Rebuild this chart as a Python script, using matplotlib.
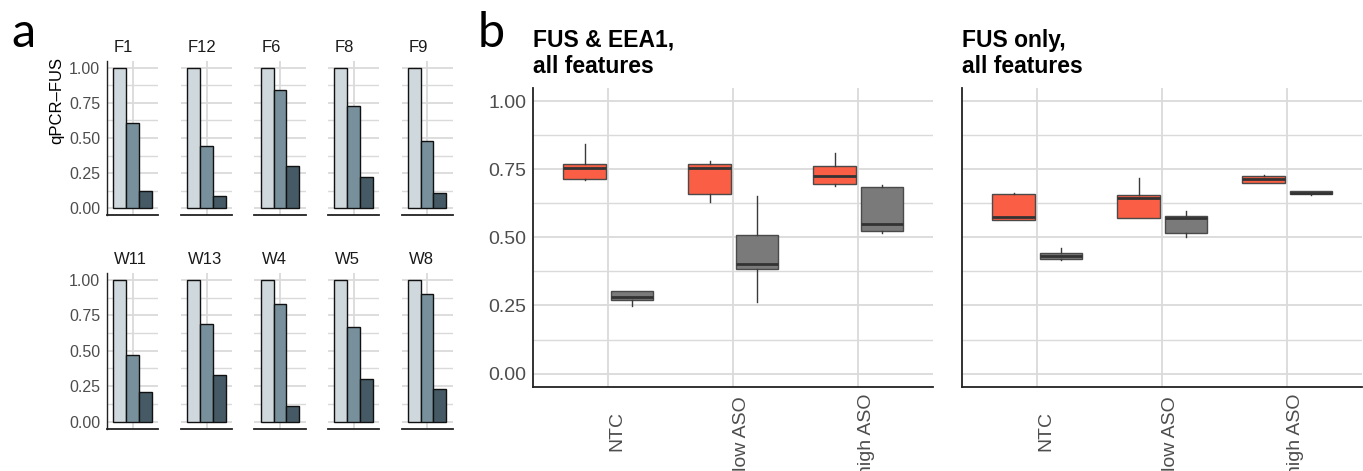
import numpy as np
import matplotlib
matplotlib.use("Agg")
import matplotlib.pyplot as plt

plt.rcParams['font.family'] = ['Liberation Sans', 'DejaVu Sans']

W, H = 1363, 471

# ---- panel a data (qPCR-FUS, relative to NTC)
top_samples = ["F1", "F12", "F6", "F8", "F9"]
bottom_samples = ["W11", "W13", "W4", "W5", "W8"]
top_ntc = [1.0, 1.0, 1.0, 1.0, 1.0]
top_low = [0.61, 0.44, 0.84, 0.73, 0.48]
top_high = [0.12, 0.09, 0.30, 0.22, 0.11]
bottom_ntc = [1.0, 1.0, 1.0, 1.0, 1.0]
bottom_low = [0.47, 0.69, 0.83, 0.67, 0.90]
bottom_high = [0.21, 0.33, 0.11, 0.30, 0.23]
bar_colors = ["#CFD8DC", "#78909C", "#455A64"]

# ---- panel b data: (whisker low, q1, median, q3, whisker high)
conditions = ["NTC", "low ASO", "high ASO"]
both_red = [(0.71, 0.713, 0.755, 0.768, 0.841),
            (0.631, 0.658, 0.755, 0.768, 0.78),
            (0.69, 0.694, 0.725, 0.763, 0.81)]
both_grey = [(0.249, 0.270, 0.280, 0.303, 0.305),
             (0.262, 0.385, 0.401, 0.509, 0.65),
             (0.515, 0.524, 0.55, 0.686, 0.691)]
fus_red = [(0.563, 0.565, 0.574, 0.658, 0.664),
           (0.57, 0.572, 0.643, 0.655, 0.719),
           (0.698, 0.700, 0.714, 0.725, 0.729)]
fus_grey = [(0.417, 0.421, 0.432, 0.443, 0.46),
            (0.501, 0.515, 0.571, 0.579, 0.598),
            (0.657, 0.659, 0.664, 0.669, 0.671)]
box_colors = ["#FA5E44", "#7A7A7A"]
titles_b = ["FUS & EEA1,\nall features", "FUS only,\nall features"]

fig = plt.figure(figsize=(W / 100, H / 100), dpi=100)


def px_axes(left, top, right, bottom):
    return fig.add_axes([left / W, 1 - bottom / H, (right - left) / W, (bottom - top) / H])


grid_c = "#DADADA"


def style_grid(ax, vlines):
    ax.set_yticks([0, 0.25, 0.5, 0.75, 1.0])
    ax.set_yticks([0.125, 0.375, 0.625, 0.875], minor=True)
    ax.grid(True, axis="y", which="major", color=grid_c, lw=1.3, zorder=0)
    ax.grid(True, axis="y", which="minor", color=grid_c, lw=1.0, zorder=0)
    for v in vlines:
        ax.axvline(v, color=grid_c, lw=1.3, zorder=0)
    ax.tick_params(axis="both", which="both", length=0)
    for s in ["top", "right"]:
        ax.spines[s].set_visible(False)
    ax.spines["bottom"].set_color("#222222")
    ax.spines["left"].set_color("#222222")
    ax.set_axisbelow(True)


# ---- panel a
lefts = [107, 181, 254.5, 328, 401.5]
rows = [(61, 215, top_samples, top_ntc, top_low, top_high),
        (273, 428.5, bottom_samples, bottom_ntc, bottom_low, bottom_high)]
for r, (t, b, names, ntc, low, high) in enumerate(rows):
    for i, name in enumerate(names):
        ax = px_axes(lefts[i], t, lefts[i] + 51, b)
        style_grid(ax, [1])
        vals = [ntc[i], low[i], high[i]]
        ax.bar([0.7, 1.0, 1.3], vals, width=0.3, color=bar_colors,
               edgecolor="#111111", linewidth=1.0, zorder=3)
        ax.set_xlim(0.4, 1.6)
        ax.set_ylim(-0.048, 1.048)
        ax.set_xticks([])
        ax.spines["bottom"].set_linewidth(1.3)
        if i == 0:
            ax.spines["left"].set_linewidth(1.0)
            ax.tick_params(axis="y", labelsize=11.5, labelcolor="#4D4D4D", pad=5)
        else:
            ax.spines["left"].set_visible(False)
            ax.set_yticklabels([])
        ax.text(7 / 51, 1.0 + 9 / (b - t), name, transform=ax.transAxes,
                fontsize=12, ha="left", va="baseline", color="#1A1A1A")

fig.text(57 / W, 1 - 101 / H, "qPCR\u2013FUS", fontsize=12, rotation=90,
         ha="center", va="center")

# ---- panel b
panels_b = [(533.3, 933.3, both_red, both_grey), (962.3, 1362.3, fus_red, fus_grey)]
axes_b = []
for j, (l, rgt, red, grey) in enumerate(panels_b):
    ax = px_axes(l, 88.3, rgt, 386.7)
    axes_b.append(ax)
    style_grid(ax, [1, 2, 3])
    for k, (series, col, off) in enumerate([(red, box_colors[0], -0.19), (grey, box_colors[1], 0.19)]):
        stats = []
        for s in series:
            stats.append(dict(whislo=s[0], q1=s[1], med=s[2], q3=s[3], whishi=s[4]))
        pos = [p + 1 + off for p in range(len(series))]
        ax.bxp(stats, positions=pos, widths=0.34, showfliers=False, showcaps=False,
               patch_artist=True, manage_ticks=False,
               boxprops=dict(facecolor=col, edgecolor="#4A4A4A", linewidth=1.0),
               medianprops=dict(color="#333333", linewidth=2.0),
               whiskerprops=dict(color="#3A3A3A", linewidth=1.0),
               zorder=3)
    ax.set_xlim(0.4, 3.6)
    ax.set_ylim(-0.048, 1.047)
    ax.set_xticks([1, 2, 3])
    ax.set_xticklabels([])
    ax.spines["bottom"].set_linewidth(1.3)
    ax.spines["left"].set_linewidth(1.3)
    if j == 0:
        ax.tick_params(axis="y", labelsize=14, labelcolor="#4D4D4D", pad=5)
    else:
        ax.set_yticklabels([])
    lines = titles_b[j].split("\n")
    for n, line in enumerate(lines):
        fig.text(l / W, 1 - (46.7 + 26 * n) / H, line, fontsize=16.5, fontweight="bold",
                 ha="left", va="baseline")

# rotated category labels, placed like the reference (partly centred)
fig.canvas.draw()
renderer = fig.canvas.get_renderer()
for ax in axes_b:
    for x, lab in zip([1, 2, 3], conditions):
        tx = ax.text(x, 0, lab, transform=ax.get_xaxis_transform(), rotation=90,
                     rotation_mode="anchor", ha="right", va="top",
                     fontsize=14, color="#4D4D4D")
        length = tx.get_window_extent(renderer).height
        top_px = 428.5 - 0.43 * length
        tx.set_y(-(top_px - 386.7) / (386.7 - 88.3))

fig.text(11 / W, 1 - 46.7 / H, "a", fontsize=35, family=["Lato", "DejaVu Sans"],
         va="baseline")
fig.text(478 / W, 1 - 46.7 / H, "b", fontsize=35, family=["Lato", "DejaVu Sans"],
         va="baseline")

fig.savefig("out.png", dpi=100)
